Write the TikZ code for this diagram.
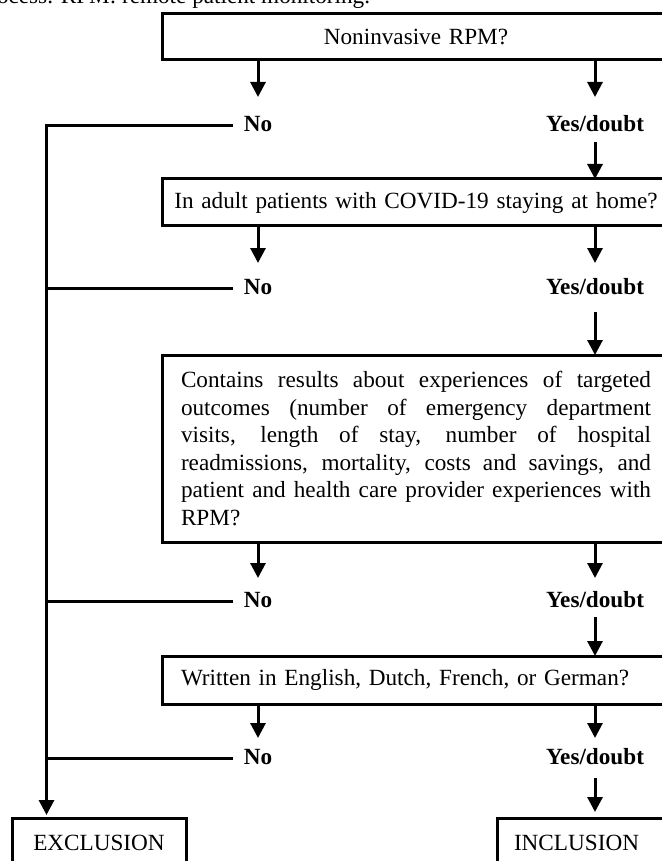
\documentclass[tikz,border=0pt]{standalone}
\usepackage{fontspec}
\setmainfont{Liberation Serif}
\usetikzlibrary{arrows.meta,positioning}
\newcommand{\chartfont}{\fontsize{11.6pt}{13.8pt}\selectfont}

\begin{document}
\begin{tikzpicture}[x=0.5pt, y=-0.5pt, >={Triangle[length=7.5pt, width=7.5pt]}, line width=1.5pt, every node/.style={outer sep=0pt},
    box/.style={rectangle, draw=black, line width=1.5pt, text width=242pt, inner xsep=6pt, font=\chartfont},
    endbox/.style={rectangle, draw=black, line width=1.5pt, text width=70pt, inner xsep=8.5pt, minimum height=25pt, font=\chartfont},
    lab/.style={font=\chartfont\bfseries, text height=8pt, text depth=2pt, inner xsep=5.5pt, inner ysep=3pt}]
    \useasboundingbox (0,0) rectangle (662,861);
    \clip (0,0) rectangle (662,861);
    \node (capt) [anchor=base west, font=\chartfont, inner sep=0pt] at (-3,4) {ocess. RPM: remote patient monitoring.};
    \node (rpm) [box, align=center, minimum height=23pt] at (416,37) {Noninvasive RPM?};
    \node (no1) [lab, below=25pt of rpm, xshift=-79pt] {No};
    \node (yes1) [lab, below=25pt of rpm, xshift=89.5pt] {Yes/doubt};
    \node (adult) [box, align=center, minimum height=23.5pt, below=59.5pt of rpm] {In adult patients with COVID-19 staying at home?};
    \node (no2) [lab, below=23pt of adult, xshift=-79pt] {No};
    \node (yes2) [lab, below=23pt of adult, xshift=89.5pt] {Yes/doubt};
    \node (outc) [box, text width=235pt, inner xsep=9.5pt, align=justify, minimum height=93.5pt, below=64.5pt of adult] {\tolerance=10000\hyphenpenalty=10000 Contains results about experiences of targeted\linebreak outcomes (number of emergency department\linebreak visits, length of stay, number of hospital\linebreak readmissions, mortality, costs and savings, and\linebreak patient and health care provider experiences with\linebreak RPM?};
    \node (no3) [lab, below=21.5pt of outc, xshift=-79pt] {No};
    \node (yes3) [lab, below=21.5pt of outc, xshift=89.5pt] {Yes/doubt};
    \node (lang) [box, text width=235pt, inner xsep=9.5pt, align=left, minimum height=24pt, below=57pt of outc] {Written in English, Dutch, French, or German?};
    \node (no4) [lab, below=19pt of lang, xshift=-79pt] {No};
    \node (yes4) [lab, below=19pt of lang, xshift=89.5pt] {Yes/doubt};
    \node (excl) [endbox, align=center, below=57pt of lang, xshift=-158.5pt] {EXCLUSION};
    \node (incl) [endbox, align=left, below=57pt of lang, xshift=84pt] {INCLUSION};
    \coordinate (rail) at ([xshift=17.25pt]excl.north west);

    % question -> answers
    \draw[->, shorten >=6.5pt] (no1 |- rpm.south) -- (no1);
    \draw[->, shorten >=6.5pt] (yes1 |- rpm.south) -- (yes1);
    \draw[->, shorten >=4.5pt] (no2 |- adult.south) -- (no2);
    \draw[->, shorten >=4.5pt] (yes2 |- adult.south) -- (yes2);
    \draw[->, shorten >=3.5pt] (no3 |- outc.south) -- (no3);
    \draw[->, shorten >=3.5pt] (yes3 |- outc.south) -- (yes3);
    \draw[->, shorten >=2pt] (no4 |- lang.south) -- (no4);
    \draw[->, shorten >=2pt] (yes4 |- lang.south) -- (yes4);

    % yes/doubt -> next question
    \draw[->] (yes1) -- (yes1 |- adult.north);
    \draw[->, shorten <=4pt] (yes2) -- (yes2 |- outc.north);
    \draw[->] (yes3) -- (yes3 |- lang.north);
    \draw[->, shorten <=2pt, shorten >=3pt] (yes4) -- (yes4 |- incl.north);

    % no -> exclusion
    \draw[->, shorten >=1.5pt] (no1.west) -| (rail);
    \draw (no2.west) -- (no2.west -| rail);
    \draw (no3.west) -- (no3.west -| rail);
    \draw (no4.west) -- (no4.west -| rail);
\end{tikzpicture}
\end{document}
